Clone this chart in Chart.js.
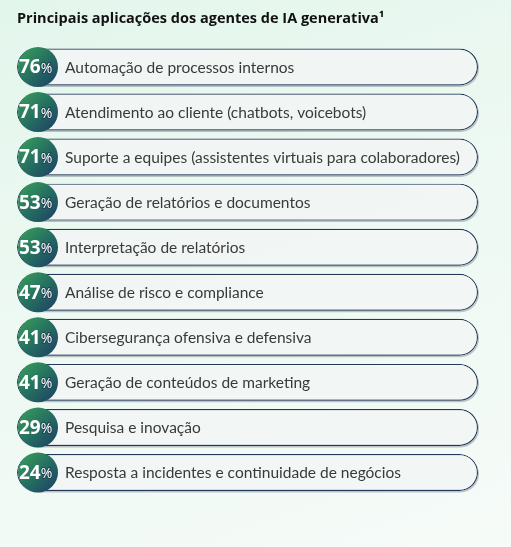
<!DOCTYPE html>
<html>
<head>
<meta charset="utf-8">
<script src="https://cdn.jsdelivr.net/npm/chart.js@4/dist/chart.umd.min.js"></script>
<style>
  html, body { margin: 0; padding: 0; }
  body { width: 511px; height: 547px; background: linear-gradient(160deg, #e3f6ec 0%, #eef9f3 50%, #f6fbf8 100%); }
  #wrap { position: relative; width: 511px; height: 547px; }
</style>
</head>
<body>
<div id="wrap"><canvas id="chart"></canvas></div>
<script>
// data
var categories = [
    "Automação de processos internos",
    "Atendimento ao cliente (chatbots, voicebots)",
    "Suporte a equipes (assistentes virtuais para colaboradores)",
    "Geração de relatórios e documentos",
    "Interpretação de relatórios",
    "Análise de risco e compliance",
    "Cibersegurança ofensiva e defensiva",
    "Geração de conteúdos de marketing",
    "Pesquisa e inovação",
    "Resposta a incidentes e continuidade de negócios"
];
var shares = [76, 71, 71, 53, 53, 47, 41, 41, 29, 24];
var chartTitle = "Principais aplicações dos agentes de IA generativa¹";

var FONT = "'Open Sans', 'Noto Sans', sans-serif";
var LABEL_FONT = "Lato, 'Open Sans', sans-serif";

// circles, numbers and labels drawn on top of each pill
var badgePlugin = {
    id: "badges",
    beforeDatasetsDraw: function(chart) {
        var ctx = chart.ctx;
        var meta = chart.getDatasetMeta(0);
        ctx.save();
        meta.data.forEach(function(bar) {
            var h = bar.height;
            ctx.fillStyle = "rgba(60,70,90,0.3)";
            ctx.beginPath();
            ctx.roundRect(bar.base + 1, bar.y - h / 2 + 1.5, bar.x - bar.base, h, h / 2);
            ctx.fill();
        });
        ctx.restore();
    },
    afterDatasetsDraw: function(chart) {
        var ctx = chart.ctx;
        var meta = chart.getDatasetMeta(0);
        ctx.save();
        meta.data.forEach(function(bar, i) {
            var cx = bar.base + 21, cy = bar.y, r = 20;
            var g = ctx.createLinearGradient(cx - r, cy - r, cx + r, cy + r);
            g.addColorStop(0, "#3aa25a");
            g.addColorStop(0.5, "#257060");
            g.addColorStop(1, "#1d3c66");
            ctx.fillStyle = g;
            ctx.beginPath();
            ctx.arc(cx, cy, r, 0, Math.PI * 2);
            ctx.fill();

            ctx.textBaseline = "middle";
            ctx.fillStyle = "#ffffff";
            ctx.font = "bold 19px " + FONT;
            var num = String(shares[i]);
            var nx = bar.base + 2;
            ctx.fillText(num, nx, cy + 1);
            var w = ctx.measureText(num).width;
            ctx.font = "14px " + FONT;
            ctx.lineWidth = 2;
            ctx.strokeStyle = "rgba(30,50,80,0.6)";
            ctx.strokeText("%", nx + w, cy + 2);
            ctx.fillText("%", nx + w, cy + 2);

            ctx.font = "15.5px " + LABEL_FONT;
            ctx.fillStyle = "#3a3a3a";
            ctx.fillText(categories[i], bar.base + 48, cy + 1);
        });
        ctx.restore();
    }
};

new Chart(document.getElementById("chart"), {
    type: "bar",
    data: {
        labels: categories,
        datasets: [{
            data: categories.map(function() { return 100; }),
            backgroundColor: "rgba(252,254,253,0.85)",
            borderColor: "#24385a",
            borderWidth: 1.2,
            borderRadius: 19,
            borderSkipped: false,
            barPercentage: 0.82,
            categoryPercentage: 1
        }]
    },
    options: {
        indexAxis: "y",
        responsive: true,
        maintainAspectRatio: false,
        animation: false,
        layout: { padding: { left: 17, right: 33, top: 3, bottom: 52 } },
        scales: {
            x: { display: false, min: 0, max: 100 },
            y: { display: false }
        },
        plugins: {
            legend: { display: false },
            tooltip: { enabled: false },
            title: {
                display: true,
                text: chartTitle,
                align: "start",
                color: "#111111",
                font: { family: FONT, size: 14.5, weight: "bold" },
                padding: { top: 7, bottom: 17 }
            }
        }
    },
    plugins: [badgePlugin]
});
</script>
</body>
</html>
